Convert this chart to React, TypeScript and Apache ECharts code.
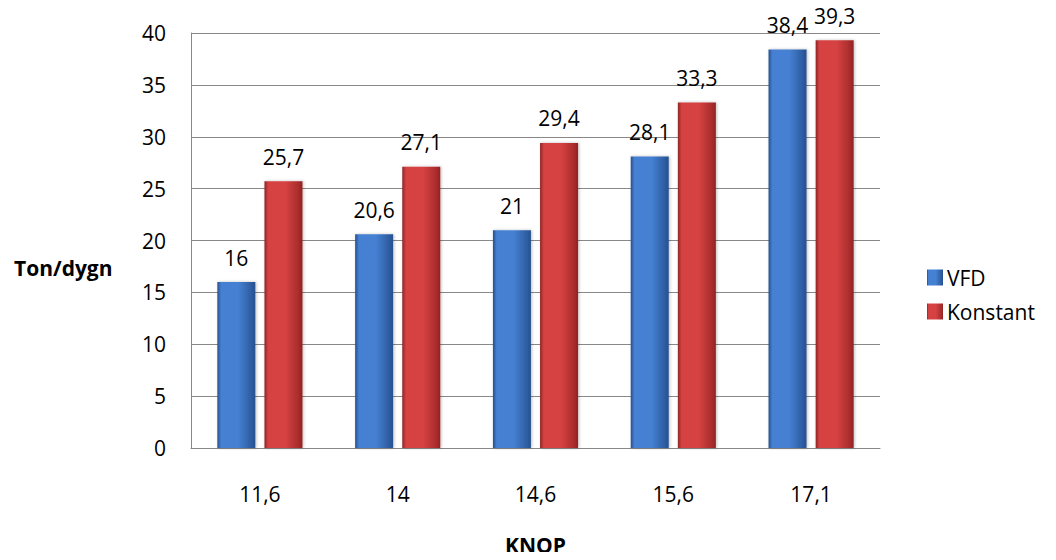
import React, { useEffect, useRef } from "react";
import * as echarts from "echarts";

const categories = ["11,6", "14", "14,6", "15,6", "17,1"];
const vfd = [16, 20.6, 21, 28.1, 38.4];
const konstant = [25.7, 27.1, 29.4, 33.3, 39.3];
const seriesNames = ["VFD", "Konstant"];
const yTicks = { min: 0, max: 40, interval: 5 };

const FONT = "'Open Sans', 'Noto Sans', sans-serif";
const FS = 21;

const fmt = (v: number) => String(v).replace(".", ",");

const grad = (l: string, c: string, r: string) =>
  new echarts.graphic.LinearGradient(0, 0, 1, 0, [
    { offset: 0, color: l },
    { offset: 0.1, color: c },
    { offset: 0.55, color: c },
    { offset: 0.9, color: r },
    { offset: 1, color: l },
  ]);

export default function App() {
  const ref = useRef<HTMLDivElement>(null);
  useEffect(() => {
    const chart = echarts.init(ref.current!, null, { renderer: "svg" });
    const label = {
      show: true,
      position: "top" as const,
      distance: 14,
      color: "#000",
      fontSize: FS,
      fontFamily: FONT,
      formatter: (p: any) => fmt(p.value),
    };
    const shadow = { shadowBlur: 3, shadowColor: "rgba(0,0,0,0.25)", shadowOffsetX: 1, shadowOffsetY: 0 };
    chart.setOption({
      animation: false,
      backgroundColor: "#fff",
      textStyle: { fontFamily: FONT },
      grid: { left: 191, right: 176, top: 33, bottom: 106, containLabel: false },
      legend: {
        orient: "vertical",
        left: 922,
        top: 262,
        itemWidth: 16,
        itemHeight: 16,
        itemGap: 13,
        icon: "rect",
        textStyle: { fontSize: FS, color: "#000", fontFamily: FONT, padding: [0, 0, 0, -1] },
        data: seriesNames,
      },
      xAxis: {
        type: "category",
        data: categories,
        axisLine: { show: true, lineStyle: { color: "#888", width: 1 } },
        axisTick: { show: false },
        axisLabel: { margin: 35, fontSize: FS, color: "#000", fontFamily: FONT },
        name: "KNOP",
        nameLocation: "middle",
        nameGap: 86,
        nameTextStyle: { fontSize: FS, fontWeight: "bold", color: "#000", fontFamily: FONT },
      },
      yAxis: {
        type: "value",
        min: yTicks.min,
        max: yTicks.max,
        interval: yTicks.interval,
        axisLine: { show: true, lineStyle: { color: "#888", width: 1 } },
        axisTick: { show: false },
        splitLine: { show: true, lineStyle: { color: "#888", width: 1 } },
        axisLabel: { margin: 25, fontSize: FS, color: "#000", fontFamily: FONT },
      },
      graphic: [
        {
          type: "text",
          left: 14,
          top: 257,
          style: { text: "Ton/dygn", fontSize: FS, fontWeight: "bold", fill: "#000", fontFamily: FONT },
        },
      ],
      series: [
        {
          name: seriesNames[0],
          type: "bar",
          data: vfd,
          barWidth: 38,
          barGap: "24%",
          itemStyle: { color: grad("#27508e", "#4580d2", "#2e5ca0"), ...shadow },
          label,
        },
        {
          name: seriesNames[1],
          type: "bar",
          data: konstant,
          barWidth: 38,
          itemStyle: { color: grad("#8e2424", "#d64242", "#a82c2c"), ...shadow },
          label,
        },
      ],
    });
    return () => chart.dispose();
  }, []);
  return <div ref={ref} style={{ width: 1056, height: 560, margin: -8 }} />;
}
